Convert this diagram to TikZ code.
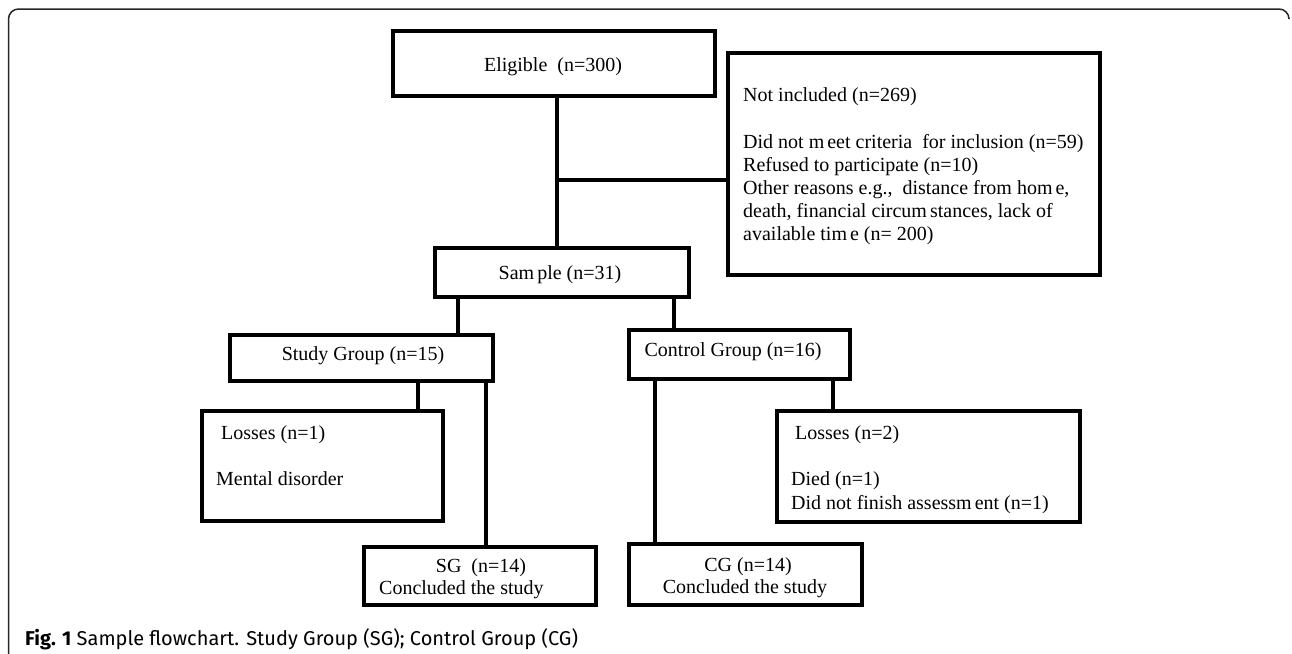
\documentclass[tikz,border=0pt]{standalone}
\usepackage{fontspec}
\setmainfont{Liberation Serif}
\newfontfamily\capfont{Fira Sans}
\tikzset{
  boxn/.style={draw=black, line width=4.5pt, inner sep=0pt, fill=white},
  conn/.style={draw=black, line width=4.5pt},
  txt/.style={inner sep=0pt, font=\fontsize{20pt}{23pt}\selectfont, text=black},
  frameline/.style={draw=black!85, line width=1.5pt, rounded corners=10pt},
}
\begin{document}
\begin{tikzpicture}[x=1pt,y=-1pt]
\useasboundingbox[fill=white] (0,0) rectangle (1292,653);
% frame
\draw[frameline] (8.5,660) -- (8.5,9) -- (1289,9) -- (1289,18);
% boxes
\node[boxn, minimum width=322pt, minimum height=65pt] (elig) at (554,63.5) {};
\node[boxn, minimum width=372pt, minimum height=222pt] (notinc) at (914,164) {};
\node[boxn, minimum width=254pt, minimum height=49pt] (sample) at (562,272.5) {};
\node[boxn, minimum width=263pt, minimum height=46pt] (study) at (361.5,358) {};
\node[boxn, minimum width=221pt, minimum height=49pt] (control) at (739.5,354.5) {};
\node[boxn, minimum width=241pt, minimum height=110pt] (lossL) at (322.5,466) {};
\node[boxn, minimum width=303pt, minimum height=111pt] (lossR) at (928.5,466.5) {};
\node[boxn, minimum width=232pt, minimum height=58pt] (sg) at (480,576) {};
\node[boxn, minimum width=233pt, minimum height=61pt] (cg) at (745.5,574.5) {};
% connector positions
\coordinate (xa) at (557,0);
\coordinate (ya) at (0,180);
\coordinate (xb) at (458,0);
\coordinate (xc) at (674,0);
\coordinate (xd) at (418,0);
\coordinate (xe) at (486,0);
\coordinate (xf) at (655,0);
\coordinate (xg) at (833,0);
% connectors
\draw[conn] (xa |- elig.south) -- (xa |- sample.north);
\draw[conn] (xa |- ya) -- (ya -| notinc.west);
\draw[conn] (xb |- sample.south) -- (xb |- study.north);
\draw[conn] (xc |- sample.south) -- (xc |- control.north);
\draw[conn] (xd |- study.south) -- (xd |- lossL.north);
\draw[conn] (xe |- study.south) -- (xe |- sg.north);
\draw[conn] (xf |- control.south) -- (xf |- cg.north);
\draw[conn] (xg |- control.south) -- (xg |- lossR.north);
% texts
\node[txt, anchor=base] (telig) at (553,71) {Eligible\ \ (n=300)};
\node[txt, anchor=base west] (tnot1) at (743,101) {Not included (n=269)};
\node[txt, anchor=base west] (tnot2) at (743,148) {Did not m\kern3pt eet criteria\ \ for inclusion (n=59)};
\node[txt, anchor=base west] (tnot3) at (743,171) {Refused to participate (n=10)};
\node[txt, anchor=base west] (tnot4) at (743,194) {Other reasons e.g.,\ \ distance from hom\kern3pt e,};
\node[txt, anchor=base west] (tnot5) at (743,217) {death, financial circum\kern3pt stances, lack of};
\node[txt, anchor=base west] (tnot6) at (743,240) {available tim\kern3pt e (n= 200)};
\node[txt, anchor=base] (tsample) at (560,279) {Sam\kern3pt ple (n=31)};
\node[txt, anchor=base] (tstudy) at (363,360) {Study Group (n=15)};
\node[txt, anchor=base] (tcontrol) at (733,356) {Control Group (n=16)};
\node[txt, anchor=base west] (tlossL) at (221,439) {Losses (n=1)};
\node[txt, anchor=base west] (tment) at (216,485) {Mental disorder};
\node[txt, anchor=base west] (tlossR) at (795,439) {Losses (n=2)};
\node[txt, anchor=base west] (tdied) at (791,485) {Died (n=1)};
\node[txt, anchor=base west] (tfin) at (791,509) {Did not finish assessm\kern3pt ent (n=1)};
\node[txt, anchor=base] (tsg) at (481,572) {SG\ \ (n=14)};
\node[txt, anchor=base west] (tsgc) at (379,594) {Concluded the study};
\node[txt, anchor=base] (tcg) at (748,571) {CG (n=14)};
\node[txt, anchor=base] (tcgc) at (745,593) {Concluded the study};
% caption
\node[anchor=base west, inner sep=0pt, font=\capfont\fontsize{20pt}{23pt}\selectfont] (cap) at (25,645) {\textbf{Fig. 1} Sample flowchart. Study Group (SG); Control Group (CG)};
\end{tikzpicture}
\end{document}
